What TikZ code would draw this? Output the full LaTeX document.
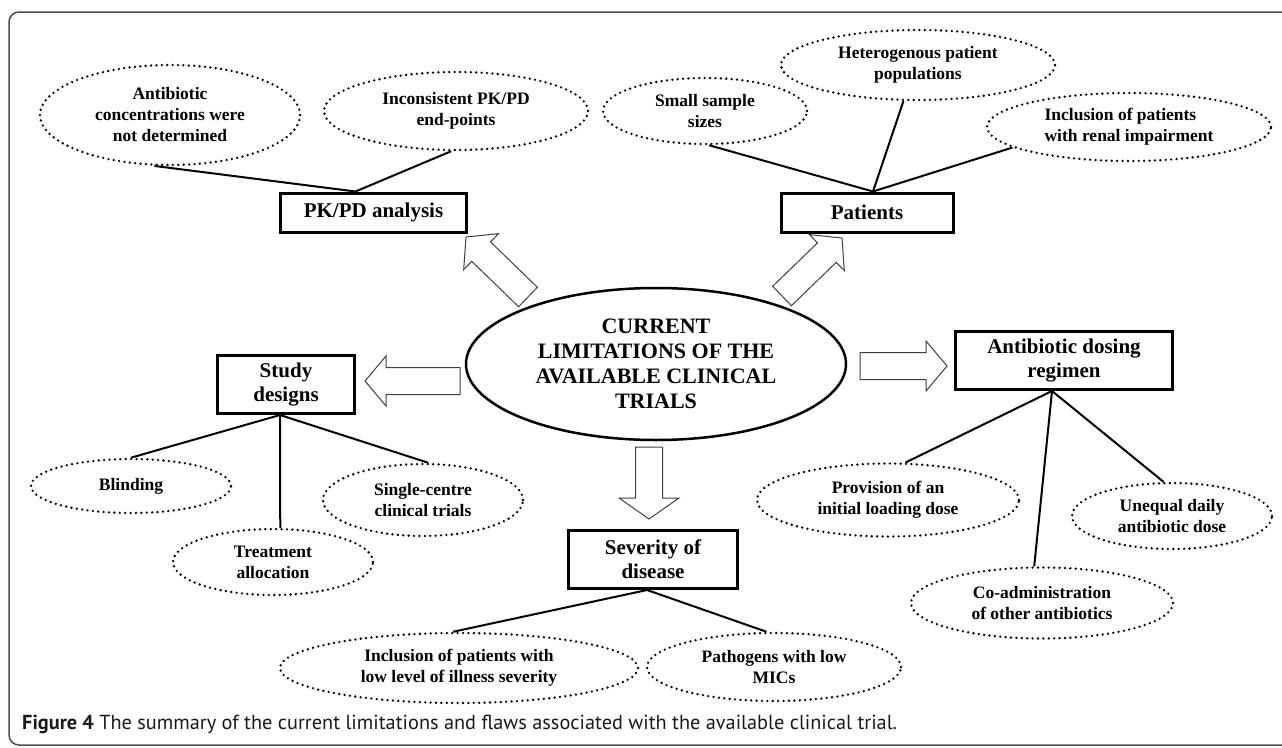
\documentclass[tikz,border=0pt]{standalone}
\usepackage{fontspec}
\setmainfont{Liberation Serif}
\newfontfamily\capfont{PT Sans}
\usepackage{tikz}
\usetikzlibrary{shapes.geometric, calc}

% hollow block arrow from #2 (tail) to #3 (tip), #1 = half width of the head
\newcommand{\blockarrow}[3][25pt]{%
	\path ($(#3)!21pt!(#2)$) coordinate (bah);
	\draw[blockline] ($(#2)!13.5pt!90:(#3)$) -- ($(bah)!13.5pt!-90:(#2)$) -- ($(bah)!#1!-90:(#2)$)
		-- (#3) -- ($(bah)!#1!90:(#2)$) -- ($(bah)!13.5pt!90:(#2)$) -- ($(#2)!13.5pt!-90:(#3)$) -- cycle;}

\begin{document}
\begin{tikzpicture}[
	x=1pt, y=-1pt,
	limit/.style={ellipse, draw, line width=2.5pt, minimum width=380pt, minimum height=152pt, align=center, font=\bfseries\fontsize{22}{25}\selectfont},
	topic/.style={rectangle, draw, line width=3pt, minimum height=39pt, align=center, font=\bfseries\fontsize{21}{24}\selectfont},
	flaw/.style 2 args={ellipse, draw, line width=2.6pt, dash pattern=on 0pt off 5.4pt, line cap=round, inner sep=0pt, minimum width=#1, minimum height=#2, align=center, font=\bfseries\fontsize{17.5}{21}\selectfont},
	link/.style={line width=2pt},
	blockline/.style={draw=black!75, line width=1pt, fill=white}
	]
	\clip (0,0) rectangle (1282,747);
	
	% Frame and caption
	\draw[black!70, line width=1.5pt, rounded corners=10pt] (9,12) rectangle (1300,745);
	\node (caption) [anchor=base west, inner sep=0pt, text=black!90, font=\capfont\fontsize{20.3}{24}\selectfont] at (22,729) {\textbf{Figure 4} The summary of the current limitations and flaws associated with the available clinical trial.};
	
	% Centre
	\node (core) [limit] at (656,364) {CURRENT\\LIMITATIONS OF THE\\AVAILABLE CLINICAL\\TRIALS};
	
	% Topics
	\node (pkpd) [topic, minimum width=186pt] at (373.5,212.5) {PK/PD analysis};
	\node (patients) [topic, minimum width=172pt] at (867,212.5) {Patients};
	\node (regimen) [topic, minimum width=217pt, minimum height=58pt] at (1064,360.5) {Antibiotic dosing\\regimen};
	\node (study) [topic, minimum width=137pt, minimum height=58pt] at (286,384.5) {Study\\designs};
	\node (severity) [topic, minimum width=169pt, minimum height=58pt] at (653,559.5) {Severity of\\disease};
	
	% Flaws
	\node (anti) [flaw={260pt}{100pt}] at (170,115) {Antibiotic\\concentrations were\\not determined};
	\node (incons) [flaw={264pt}{78pt}] at (456,111) {Inconsistent PK/PD\\end-points};
	\node (small) [flaw={204pt}{66pt}] at (705,111) {Small sample\\sizes};
	\node (hetero) [flaw={274pt}{70pt}] at (918,65) {Heterogenous patient\\populations};
	\node (renal) [flaw={284pt}{68pt}, align=left] at (1129,127) {Inclusion of patients\\with renal impairment};
	\node (blind) [flaw={200pt}{54pt}] at (131,486) {Blinding};
	\node (treat) [flaw={200pt}{66pt}] at (273,562) {Treatment\\allocation};
	\node (single) [flaw={200pt}{72pt}] at (423,500) {Single-centre\\clinical trials};
	\node (lowsev) [flaw={358pt}{70pt}] at (459,668) {Inclusion of patients with\\low level of illness severity};
	\node (patho) [flaw={254pt}{68pt}] at (774,667) {Pathogens with low\\MICs};
	\node (prov) [flaw={262pt}{73pt}] at (888,500) {Provision of an\\initial loading dose};
	\node (unequal) [flaw={200pt}{66pt}] at (1172,516) {Unequal daily\\antibiotic dose};
	\node (coadm) [flaw={262pt}{71pt}] at (1042,603) {Co-administration\\of other antibiotics};
	
	% Block arrows
	\coordinate (pkTail) at (528,297);
	\coordinate (pkTip) at (466,237);
	\coordinate (ptTail) at (782,296);
	\coordinate (ptTip) at (842,238);
	\coordinate (sdTail) at (460,381);
	\coordinate (sdTip) at (365,381);
	\coordinate (rgTail) at (860,366);
	\coordinate (rgTip) at (947,366);
	\coordinate (svTail) at (649,447);
	\coordinate (svTip) at (649,519);
	\blockarrow{pkTail}{pkTip}
	\blockarrow{ptTail}{ptTip}
	\blockarrow{sdTail}{sdTip}
	\blockarrow{rgTail}{rgTip}
	\blockarrow[30pt]{svTail}{svTip}
	
	% Links
	\draw[link] ([xshift=-18pt]pkpd.north) -- (anti.253);
	\draw[link] ([xshift=-18pt]pkpd.north) -- (incons.263);
	\draw[link] ([xshift=6pt]patients.north) -- (small.277);
	\draw[link] ([xshift=6pt]patients.north) -- (hetero.248);
	\draw[link] ([xshift=6pt]patients.north) -- (renal.190);
	\draw[link] ([xshift=-6pt]study.south) -- (blind.north);
	\draw[link] ([xshift=-6pt]study.south) -- (treat.78);
	\draw[link] ([xshift=-6pt]study.south) -- (single.82);
	\draw[link] ([xshift=-6pt]severity.south) -- (lowsev.99);
	\draw[link] ([xshift=-6pt]severity.south) -- (patho.102);
	\draw[link] ([xshift=-12pt]regimen.south) -- (prov.65);
	\draw[link] ([xshift=-12pt]regimen.south) -- (unequal.104);
	\draw[link] ([xshift=-12pt]regimen.south) -- (coadm.102);
	
\end{tikzpicture}
\end{document}
